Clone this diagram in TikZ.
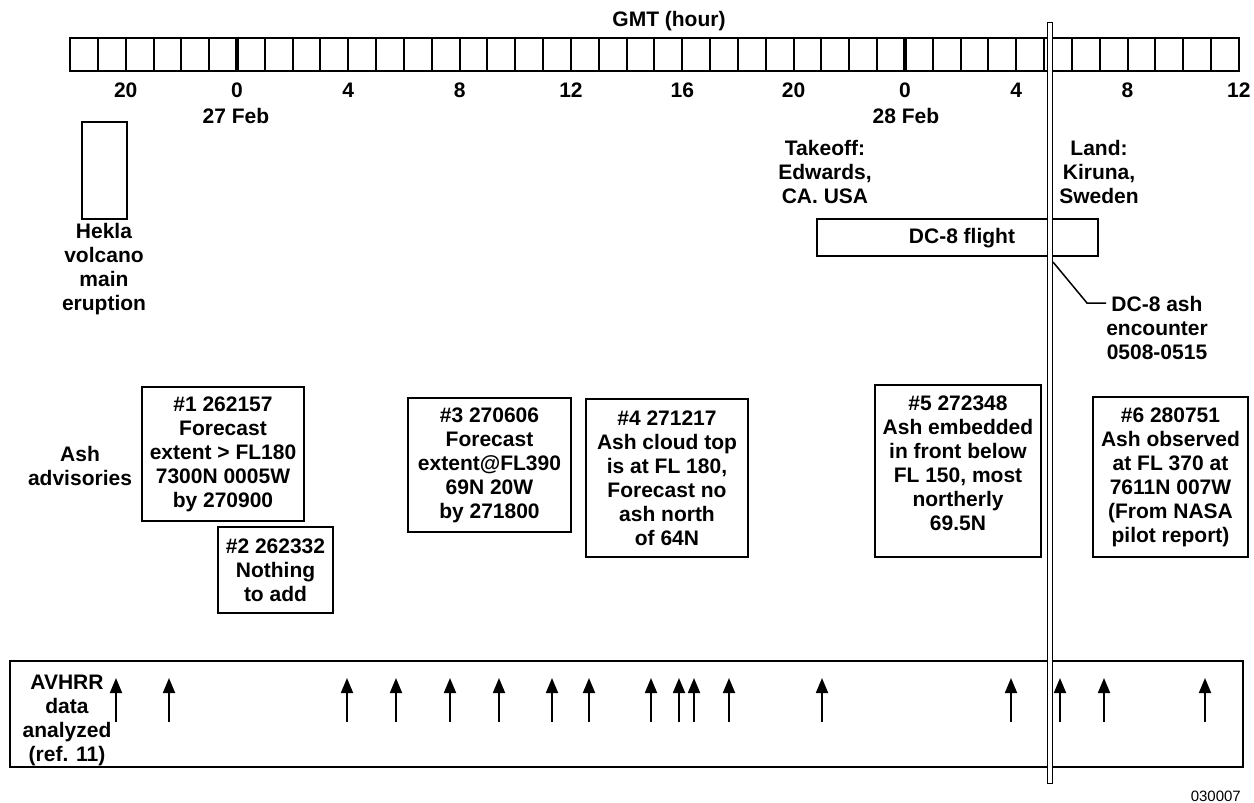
\documentclass[tikz,border=0pt]{standalone}
\usepackage{fontspec}
\setmainfont{Liberation Sans}
\usetikzlibrary{arrows.meta}
\begin{document}
\begin{tikzpicture}[x=1pt,y=-1pt,
  lbl/.style={font=\fontsize{21}{24}\selectfont\bfseries, align=center, inner sep=0pt},
  advbox/.style={draw, line width=2.5pt, font=\fontsize{21}{24}\selectfont\bfseries, align=center, inner sep=0pt},
  frame/.style={draw, line width=2.5pt, inner sep=0pt},
  cell/.style={line width=2pt},
  daycell/.style={line width=4.5pt},
  avarrow/.style={line width=1.8pt, -{Triangle[width=12pt,length=15pt]}},
  thinline/.style={line width=1.5pt},
]
\useasboundingbox (0,0) rectangle (1254,803);
% title
\node[lbl] (gmt) at (669,21) {GMT (hour)};
% timeline bar
\node[frame, minimum width=1169pt, minimum height=33pt] (bar) at (654.5,54.5) {};
\foreach \h in {-5,...,35} {
  \draw[cell] ({237+27.83*\h},38) -- ({237+27.83*\h},71);
}
\foreach \h in {0,24} {
  \draw[daycell] ({237+27.83*\h},39) -- ({237+27.83*\h},70);
}
\foreach \h/\t in {-4/20,0/0,4/4,8/8,12/12,16/16,20/20,24/0,28/4,32/8,36/12} {
  \node[lbl] (tk\h) at ({237+27.83*\h},90) {\t};
}
\node[lbl] (feb27) at (236,116) {27 Feb};
\node[lbl] (feb28) at (906,116) {28 Feb};
% Hekla
\node[frame, minimum width=45pt, minimum height=97pt] (hekbox) at (104.5,170.5) {};
\node[lbl] (hektxt) at (104,269) {Hekla\\volcano\\main\\eruption};
% flight
\node[lbl] (takeoff) at (825,172) {Takeoff:\\Edwards,\\CA. USA};
\node[lbl] (land) at (1099,172) {Land:\\Kiruna,\\Sweden};
\node[frame, minimum width=281pt, minimum height=37pt] (flight) at (957.5,237.5) {};
\node[lbl] (flighttxt) at (962,238) {DC-8 flight};
% encounter
\node[lbl] (enc) at (1157,328) {DC-8 ash\\encounter\\0508-0515};
\coordinate (encpt) at (1053,262);
\coordinate (encelbow) at (1087,303);
\draw[thinline] (encpt) -- (encelbow) -- (encelbow -| enc.west);
% advisories
\node[lbl] (advlbl) at (80,466) {Ash\\advisories};
\node[advbox, minimum width=162pt, minimum height=134pt] (a1) at (223,454) {\#1 262157\\Forecast\\extent > FL180\\7300N 0005W\\by 270900};
\node[advbox, minimum width=115pt, minimum height=86pt] (a2) at (275.5,570) {\#2 262332\\Nothing\\to add};
\node[advbox, minimum width=163pt, minimum height=134pt] (a3) at (489.5,465) {\#3 270606\\Forecast\\extent@FL390\\69N 20W\\by 271800};
\node[advbox, minimum width=162pt, minimum height=158pt] (a4) at (667,478) {\#4 271217\\Ash cloud top\\is at FL 180,\\Forecast no\\ash north\\of 64N};
\node[frame, minimum width=166pt, minimum height=172pt] (a5) at (958,471) {};
\node[lbl] (a5txt) at (958,463) {\#5 272348\\Ash embedded\\in front below\\FL 150, most\\northerly\\69.5N};
\node[advbox, minimum width=155pt, minimum height=160pt] (a6) at (1170.5,477) {\#6 280751\\Ash observed\\at FL 370 at\\7611N 007W\\(From NASA\\pilot report)};
% AVHRR
\node[frame, minimum width=1233pt, minimum height=106pt] (avbox) at (626.5,714) {};
\node[lbl] (avtxt) at (67,720) {AVHRR\\data\\analyzed\\(ref. 11)};
\foreach \x [count=\i] in {116,169,347,396,450,499,552,589,651,679,694,729,822,1011,1060,1104,1205} {
  \coordinate (ab\i) at (\x,722);
  \coordinate (at\i) at (\x,678);
  \draw[avarrow] (ab\i) -- (at\i);
}
% encounter time line (double)
\node[draw, fill=white, line width=0.9pt, minimum width=4.5pt, minimum height=761pt, inner sep=0pt] (encline) at (1050,402.5) {};
% figure number
\node[font=\fontsize{15}{18}\selectfont, anchor=east, inner sep=0pt] (fignum) at (1241,796) {030007};
\end{tikzpicture}
\end{document}
